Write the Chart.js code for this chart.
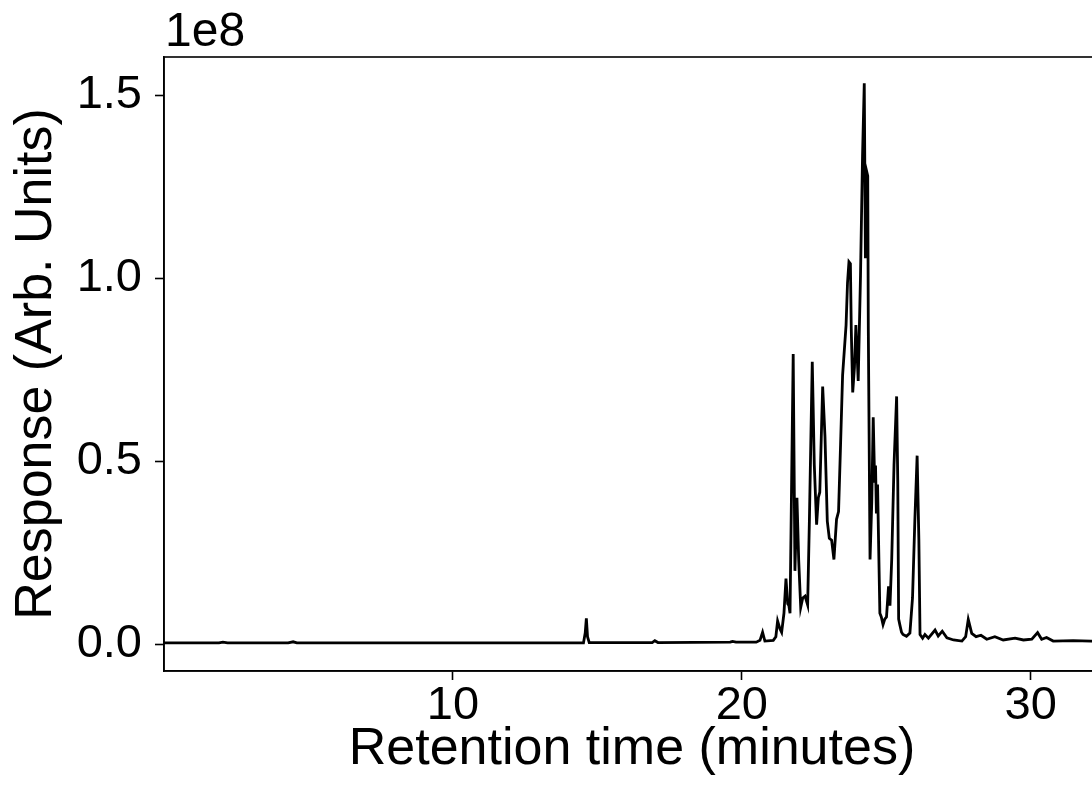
<!DOCTYPE html>
<html>
<head>
<meta charset="utf-8">
<script src="https://cdn.jsdelivr.net/npm/chart.js@4"></script>
<style>
  html, body { margin: 0; padding: 0; background: #fff; overflow: hidden; }
  #wrap { width: 1110px; height: 797px; }
</style>
</head>
<body>
<div id="wrap"><canvas id="c" width="1110" height="797"></canvas></div>
<script>
// Retention time (minutes)
const retentionTime = [
  0.0, 1.9, 2.04, 2.2, 4.3, 4.47, 4.6, 14.52, 14.58, 14.62, 14.66, 14.72,
  16.9, 16.99, 17.1, 19.6, 19.68, 19.8, 20.5, 20.63, 20.72, 20.8, 21.09, 21.18,
  21.24, 21.32, 21.38, 21.46, 21.53, 21.59, 21.63, 21.67, 21.78, 21.84, 21.91, 21.97,
  22.04, 22.11, 22.19, 22.28, 22.34, 22.44, 22.51, 22.59, 22.65, 22.70, 22.80, 22.88,
  22.96, 23.03, 23.11, 23.19, 23.28, 23.35, 23.42, 23.49, 23.61, 23.66, 23.71, 23.76,
  23.79, 23.84, 23.90, 23.95, 24.03, 24.11, 24.18, 24.24, 24.27, 24.28, 24.33, 24.36,
  24.38, 24.44, 24.50, 24.55, 24.60, 24.63, 24.66, 24.70, 24.78, 24.83, 24.89, 24.95,
  25.01, 25.08, 25.13, 25.19, 25.27, 25.36, 25.40, 25.43, 25.47, 25.53, 25.58, 25.70,
  25.82, 25.91, 25.99, 26.07, 26.13, 26.17, 26.26, 26.34, 26.46, 26.69, 26.80, 26.94,
  27.10, 27.33, 27.62, 27.75, 27.84, 27.96, 28.11, 28.28, 28.48, 28.76, 29.05, 29.46,
  29.75, 30.04, 30.24, 30.38, 30.55, 30.78, 31.47, 32.4
];
// Response in units of 1e8 (Arb. Units)
const response1e8 = [
  0.003, 0.003, 0.005, 0.003, 0.003, 0.006, 0.003, 0.003, 0.03, 0.070, 0.02, 0.004,
  0.004, 0.009, 0.004, 0.005, 0.007, 0.005, 0.005, 0.01, 0.032, 0.008, 0.01, 0.02,
  0.063, 0.042, 0.032, 0.084, 0.179, 0.11, 0.105, 0.084, 0.793, 0.2, 0.4, 0.23,
  0.1, 0.126, 0.131, 0.107, 0.336, 0.772, 0.49, 0.326, 0.40, 0.415, 0.704, 0.567,
  0.336, 0.289, 0.284, 0.231, 0.341, 0.362, 0.546, 0.735, 0.872, 0.987, 1.045, 1.04,
  0.861, 0.688, 0.756, 0.872, 0.719, 1.008, 1.334, 1.533, 1.176, 1.055, 1.29, 1.28,
  0.861, 0.231, 0.39, 0.62, 0.441, 0.488, 0.357, 0.436, 0.084, 0.074, 0.053, 0.068,
  0.074, 0.158, 0.105, 0.231, 0.49, 0.677, 0.441, 0.068, 0.053, 0.032, 0.026, 0.021,
  0.03, 0.126, 0.336, 0.515, 0.284, 0.026, 0.016, 0.026, 0.016, 0.038, 0.022, 0.035,
  0.017, 0.011, 0.008, 0.02, 0.067, 0.029, 0.02, 0.024, 0.013, 0.02, 0.011, 0.016,
  0.011, 0.013, 0.031, 0.013, 0.018, 0.008, 0.009, 0.007
];
const xTickValues = [10, 20, 30];
const yTickValues = [0.0, 0.5, 1.0, 1.5];
const xLabel = 'Retention time (minutes)';
const yLabel = 'Response (Arb. Units)';
const offsetLabel = '1e8';

const FONT = '"Liberation Sans", Arial, sans-serif';
const points = retentionTime.map((t, i) => ({ x: t, y: response1e8[i] }));

const framePlugin = {
  id: 'frame',
  afterDraw(chart) {
    const { ctx, chartArea: a } = chart;
    ctx.save();
    ctx.strokeStyle = '#000';
    ctx.lineWidth = 1.6;
    ctx.strokeRect(a.left, a.top, a.right - a.left, a.bottom - a.top);
    ctx.fillStyle = '#000';
    ctx.font = '48px ' + FONT;
    ctx.textAlign = 'left';
    ctx.textBaseline = 'alphabetic';
    ctx.fillText(offsetLabel, a.left + 1, 46);
    ctx.restore();
  }
};

new Chart(document.getElementById('c'), {
  type: 'line',
  data: {
    datasets: [{
      data: points,
      borderColor: '#000',
      borderWidth: 2.8,
      pointRadius: 0,
      tension: 0,
      fill: false
    }]
  },
  options: {
    responsive: false,
    animation: false,
    devicePixelRatio: 1,
    layout: { padding: { left: 0, top: 57, right: 10, bottom: 0 } },
    plugins: { legend: { display: false }, tooltip: { enabled: false } },
    scales: {
      x: {
        type: 'linear',
        min: 0,
        max: 32.4,
        afterBuildTicks: s => { s.ticks = xTickValues.map(v => ({ value: v })); },
        afterFit: s => { s.height = 126; },
        grid: { drawOnChartArea: false, drawTicks: true, tickLength: 9, tickWidth: 1.6, tickColor: '#000' },
        border: { display: true, color: '#000', width: 1.6 },
        ticks: { color: '#000', font: { family: FONT, size: 47 }, padding: -2, maxRotation: 0, autoSkip: false,
                 callback: v => String(v) },
        title: { display: true, text: xLabel, color: '#000', font: { family: FONT, size: 52 }, padding: { top: 0, bottom: 16 } }
      },
      y: {
        type: 'linear',
        min: -0.0738,
        max: 1.605,
        afterBuildTicks: s => { s.ticks = yTickValues.map(v => ({ value: v })); },
        afterFit: s => { s.width = 164; },
        grid: { drawOnChartArea: false, drawTicks: true, tickLength: 9, tickWidth: 1.6, tickColor: '#000' },
        border: { display: true, color: '#000', width: 1.6 },
        ticks: { color: '#000', font: { family: FONT, size: 47 }, padding: 13, autoSkip: false,
                 callback: v => Number(v).toFixed(1) },
        title: { display: true, text: yLabel, color: '#000', font: { family: FONT, size: 52 }, padding: { top: 5, bottom: 0 } }
      }
    }
  },
  plugins: [framePlugin]
});
</script>
</body>
</html>
